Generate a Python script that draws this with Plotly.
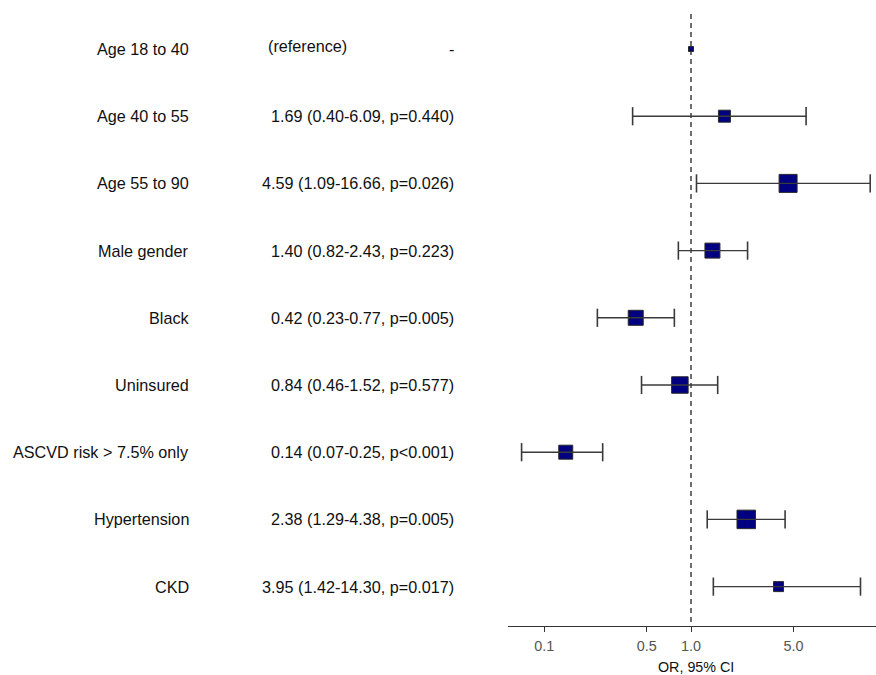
import plotly.graph_objects as go

# ---- data ----
labels = ["Age 18 to 40", "Age 40 to 55", "Age 55 to 90", "Male gender", "Black",
          "Uninsured", "ASCVD risk > 7.5% only", "Hypertension", "CKD"]
odds_ratio = [1.0, 1.69, 4.59, 1.40, 0.42, 0.84, 0.14, 2.38, 3.95]
ci_low = [None, 0.40, 1.09, 0.82, 0.23, 0.46, 0.07, 1.29, 1.42]
ci_high = [None, 6.09, 16.66, 2.43, 0.77, 1.52, 0.25, 4.38, 14.30]
p_text = ["", "p=0.440", "p=0.026", "p=0.223", "p=0.005", "p=0.577", "p<0.001", "p=0.005", "p=0.017"]
box_sizes = [5, 12, 18, 15, 15, 16.5, 14, 18.5, 10]
tick_vals = [0.1, 0.5, 1.0, 5.0]
tick_text = ["0.1", "0.5", "1.0", "5.0"]

# ---- layout geometry (pixels) ----
W, H = 876, 675
plot_left, plot_right, plot_top, plot_bottom = 508, 876, 14, 626
row0_px, row_step = 49, 67.2
one_px, decade_px = 691, 146.7

x_range = [(plot_left - one_px) / decade_px, (plot_right - one_px) / decade_px]
y_top = (plot_top - row0_px) / row_step
y_bot = (plot_bottom - row0_px) / row_step

FONT = "Liberation Sans, Arial, sans-serif"
TXT = "#111111"
rows = list(range(len(labels)))

fig = go.Figure()

# reference dashed line at OR = 1
fig.add_trace(go.Scatter(x=[1.0, 1.0], y=[y_top, y_bot], mode="lines",
                         line=dict(color="#333333", width=1.4, dash="5px,4px"),
                         hoverinfo="skip", showlegend=False))

# boxes
fig.add_trace(go.Scatter(x=odds_ratio, y=rows, mode="markers",
                         marker=dict(symbol="square", size=box_sizes, color="#000080",
                                     opacity=1, line=dict(color="#2a2a2a", width=1)),
                         showlegend=False))

# CI lines with caps (drawn above the boxes)
cx, cy = [], []
for i, (lo, hi) in enumerate(zip(ci_low, ci_high)):
    if lo is None:
        continue
    cx += [lo, hi, None]
    cy += [i, i, None]
fig.add_trace(go.Scatter(x=cx, y=cy, mode="lines+markers",
                         line=dict(color="#3a3a3a", width=1.4),
                         marker=dict(symbol="line-ns", size=13, color="#3a3a3a",
                                     line=dict(color="#3a3a3a", width=1.6)),
                         showlegend=False))

annotations = []
for i, lab in enumerate(labels):
    annotations.append(dict(x=191 / W, xref="paper", y=i, yref="y", text=lab,
                            xanchor="right", yanchor="middle", showarrow=False,
                            font=dict(family=FONT, size=16.2, color=TXT)))
    if ci_low[i] is None:
        annotations.append(dict(x=266 / W, xref="paper", y=i, yref="y", text="(reference)",
                                xanchor="left", yanchor="middle", yshift=3, showarrow=False,
                                font=dict(family=FONT, size=16.2, color=TXT)))
        annotations.append(dict(x=456 / W, xref="paper", y=i, yref="y", text="-",
                                xanchor="right", yanchor="middle", showarrow=False,
                                font=dict(family=FONT, size=16.2, color=TXT)))
    else:
        txt = f"{odds_ratio[i]:.2f} ({ci_low[i]:.2f}-{ci_high[i]:.2f}, {p_text[i]})"
        annotations.append(dict(x=456 / W, xref="paper", y=i, yref="y", text=txt,
                                xanchor="right", yanchor="middle", showarrow=False,
                                font=dict(family=FONT, size=16.2, color=TXT)))

annotations.append(dict(x=696 / W, xref="paper", y=1 - 667 / H, yref="paper",
                        text="OR, 95% CI", xanchor="center", yanchor="middle",
                        showarrow=False, font=dict(family=FONT, size=14.3, color=TXT)))

fig.update_layout(
    width=W, height=H,
    margin=dict(l=0, r=0, t=0, b=0),
    paper_bgcolor="white", plot_bgcolor="white",
    annotations=annotations,
    xaxis=dict(type="log", range=x_range, domain=[plot_left / W, plot_right / W],
               tickvals=tick_vals, ticktext=tick_text, ticks="outside", ticklen=5,
               tickcolor="#333333", tickwidth=1.2, showline=True, linecolor="#333333",
               linewidth=1.3, showgrid=False, zeroline=False, anchor="y",
               ticklabelstandoff=2,
               tickfont=dict(family=FONT, size=14.4, color="#555555")),
    yaxis=dict(range=[y_bot, y_top], domain=[1 - plot_bottom / H, 1 - plot_top / H],
               showticklabels=False, showgrid=False, zeroline=False, showline=False,
               ticks=""),
)

fig.write_html("out.html", config={"displayModeBar": False},
               post_script="document.body.style.margin='0';document.body.style.overflow='hidden';")
